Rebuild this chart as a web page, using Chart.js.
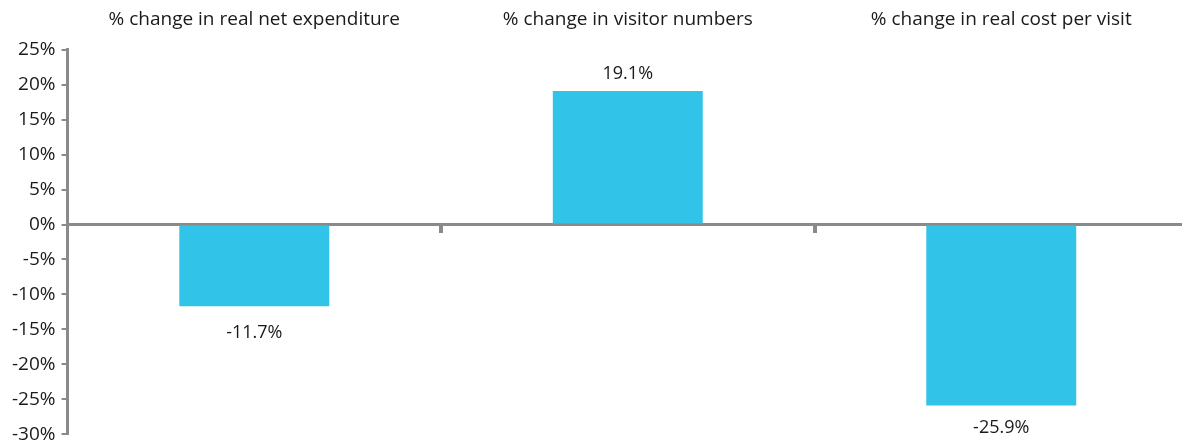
<!DOCTYPE html>
<html>
<head>
<meta charset="utf-8">
<script src="https://cdn.jsdelivr.net/npm/chart.js@4/dist/chart.umd.min.js"></script>
<style>
html,body{margin:0;padding:0;background:#fff;overflow:hidden;}
#clip{width:1182px;height:444px;overflow:hidden;position:relative;}
#wrap{width:1188px;height:444px;position:relative;}
</style>
</head>
<body>
<div id="clip"><div id="wrap"><canvas id="c"></canvas></div></div>
<script>
const categories = ['% change in real net expenditure', '% change in visitor numbers', '% change in real cost per visit'];
const values = [-11.7, 19.1, -25.9];
const yMin = -30, yMax = 25, yStep = 5;

const FONT = '"Open Sans", Lato, sans-serif';
const GREY = '#8a8a8a';
const TEXT = '#1a1a1a';

const valueLabels = {
  id: 'valueLabels',
  afterDatasetsDraw(chart) {
    const ctx = chart.ctx;
    const meta = chart.getDatasetMeta(0);
    ctx.save();
    ctx.font = '18px ' + FONT;
    ctx.fillStyle = TEXT;
    ctx.textAlign = 'center';
    meta.data.forEach((bar, i) => {
      const v = values[i];
      const txt = v.toFixed(1) + '%';
      if (v >= 0) { ctx.textBaseline = 'bottom'; ctx.fillText(txt, bar.x, bar.y - 8); }
      else { ctx.textBaseline = 'top'; ctx.fillText(txt, bar.x, Math.min(bar.y + 18, chart.height - 25)); }
    });
    ctx.restore();
  }
};

new Chart(document.getElementById('c'), {
  type: 'bar',
  data: {
    labels: categories,
    datasets: [{
      data: values,
      backgroundColor: '#31c3e8',
      borderWidth: 0,
      barPercentage: 0.5,
      categoryPercentage: 0.803,
      xAxisID: 'x'
    }]
  },
  options: {
    responsive: true,
    maintainAspectRatio: false,
    animation: false,
    layout: { padding: { top: -11, right: 0, bottom: 0, left: 6 } },
    plugins: { legend: { display: false }, tooltip: { enabled: false } },
    scales: {
      x: {
        type: 'category',
        position: { y: 0 },
        offset: true,
        border: { display: true, color: GREY, width: 3 },
        grid: {
          offset: true,
          drawOnChartArea: false,
          drawTicks: true,
          tickLength: 7,
          lineWidth: 4,
          color: (c) => (c.index === 1 || c.index === 2) ? GREY : 'rgba(0,0,0,0)'
        },
        ticks: { display: false }
      },
      x2: {
        type: 'category',
        position: 'top',
        labels: categories,
        offset: true,
        border: { display: false },
        grid: { display: false, drawTicks: false },
        ticks: { color: TEXT, font: { family: FONT, size: 19 }, padding: 19, maxRotation: 0, autoSkip: false }
      },
      y: {
        min: yMin,
        max: yMax,
        border: { display: true, color: GREY, width: 3 },
        grid: { drawOnChartArea: false, drawTicks: true, tickLength: 6, lineWidth: 2, color: GREY },
        ticks: {
          stepSize: yStep,
          color: TEXT,
          font: { family: FONT, size: 19, lineHeight: 0.4 },
          padding: 6,
          callback: (v) => v + '%'
        }
      }
    }
  },
  plugins: [valueLabels]
});
</script>
</body>
</html>
